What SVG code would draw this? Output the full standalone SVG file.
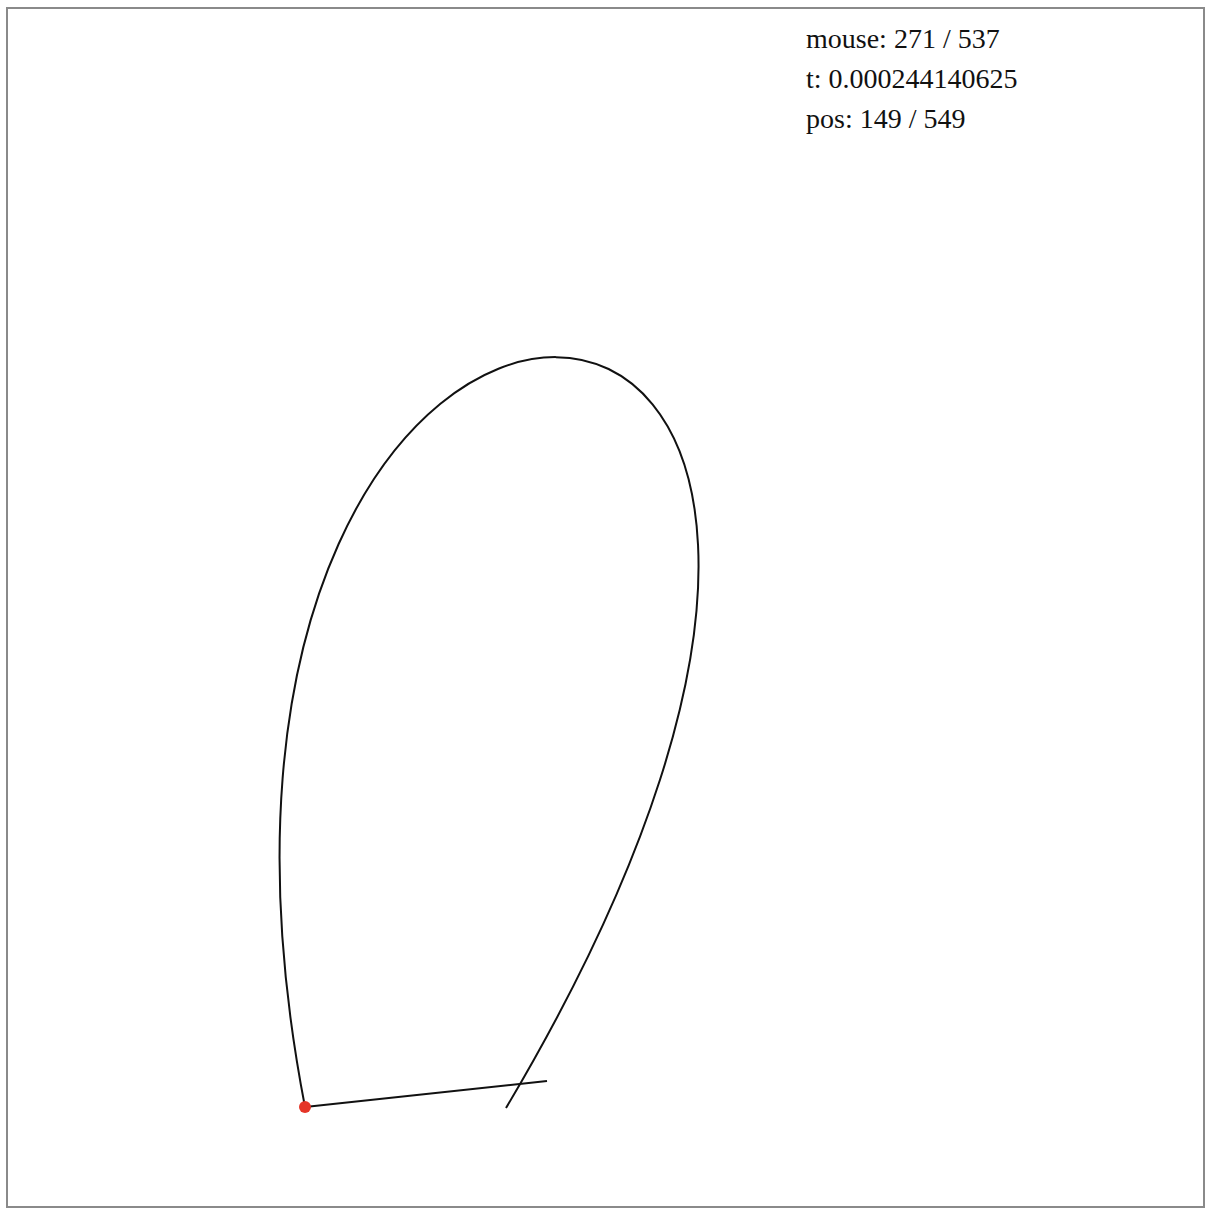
<svg xmlns="http://www.w3.org/2000/svg" width="1212" height="1216" viewBox="0 0 1212 1216">
<style>
.info{font-family:"Liberation Serif","Times New Roman",serif;font-size:28px;fill:#111}
.ln{fill:none;stroke:#111;stroke-width:2}
</style>
<rect x="0" y="0" width="1212" height="1216" fill="#fff"/>
<rect x="7" y="8" width="1197" height="1199" fill="#fff" stroke="#8a8a8a" stroke-width="2"/>
<g id="info">
<text class="info" x="806" y="48">mouse: 271 / 537</text>
<text class="info" x="806" y="88">t: 0.000244140625</text>
<text class="info" x="806" y="128">pos: 149 / 549</text>
</g>
<g id="connectors">
<path id="curve" class="ln" d="M305,1107 C112,106 1100,108 506,1108"/>
<line id="handle" class="ln" x1="305" y1="1107" x2="547" y2="1081"/>
</g>
<g id="pos">
<circle cx="305" cy="1107" r="6" fill="#e53528"/>
</g>
</svg>
